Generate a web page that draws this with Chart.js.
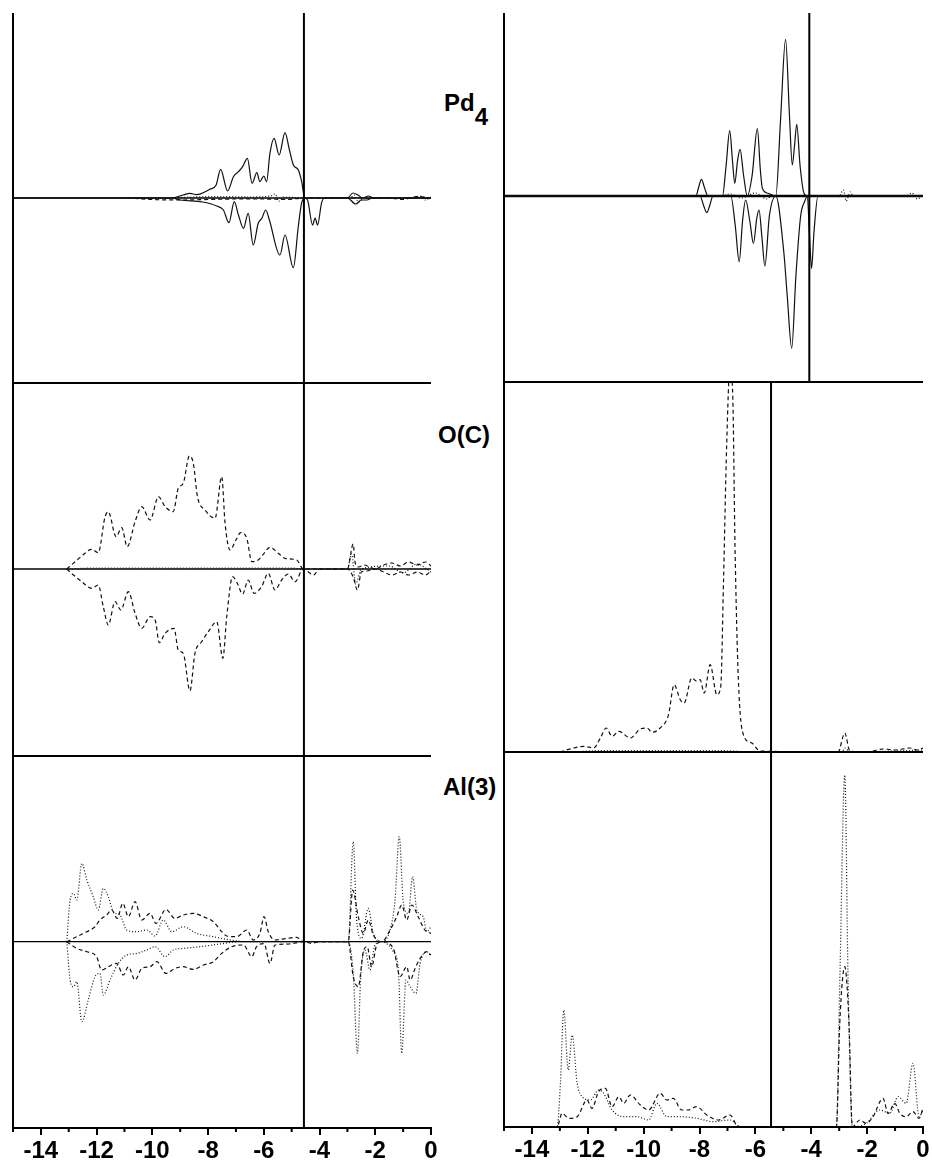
<!DOCTYPE html>
<html>
<head>
<meta charset="utf-8">
<script src="https://cdn.jsdelivr.net/npm/chart.js@4.4.0/dist/chart.umd.min.js"></script>
<style>
  body { margin: 0; background: #fff; width: 932px; height: 1165px; position: relative; overflow: hidden;
         font-family: "Liberation Sans", Arial, sans-serif; }
  .panel { position: absolute; }
  .label { position: absolute; font-weight: bold; font-size: 24px; line-height: 1; color: #000; white-space: nowrap; }
  .label .sub { position: relative; top: 14px; }
</style>
</head>
<body>
<div class="label" style="left:444px;top:91px">Pd<span class="sub">4</span></div>
<div class="label" style="left:438px;top:423px">O(C)</div>
<div class="label" style="left:443px;top:775px">Al(3)</div>

<script>
// Energy window (eV) and Fermi levels
const xMin = -15, xMax = 0;
const fermiLeft = -4.56, fermiRightTop = -4.07, fermiRight = -5.44;

// Pd4 - left column (spin up / spin down)
const pdLeftUp = [[-15,0],[-9.3,0],[-8.9,3],[-8.65,4.7],[-8.41,3.3],[-7.93,8.7],[-7.71,13],[-7.55,28.7],[-7.30,7],[-7.09,21.3],
  [-6.91,26.3],[-6.76,31.3],[-6.59,39.7],[-6.42,14.7],[-6.25,25.3],[-6.14,16.3],[-6.00,22],[-5.90,16.3],[-5.78,44.7],[-5.63,59.7],
  [-5.45,43],[-5.24,65.3],[-5.08,48],[-4.94,33],[-4.76,28],[-4.64,16.3],[-4.53,0],[-3.0,0],[-2.8,5],[-2.62,3],[-2.45,0],[-2.25,2],[-2.05,0],[0,0]];
const pdLeftDown = [[-15,0],[-9.3,0],[-9.0,-2],[-8.2,-4],[-7.69,-8],[-7.45,-12],[-7.25,-24.7],[-7.06,-3.7],[-6.91,-17],[-6.73,-30.3],
  [-6.56,-15.3],[-6.38,-47],[-6.20,-25.3],[-6.07,-20.3],[-5.93,-12],[-5.80,-22],[-5.42,-57],[-5.24,-37],[-4.94,-69.7],[-4.76,-28],
  [-4.64,-4.7],[-4.53,0],[-4.43,-2],[-4.25,-27],[-4.16,-20],[-4.07,-27],[-3.93,-5.3],[-3.83,0],[-3.0,0],[-2.7,-6],[-2.5,-2],[-2.3,-2],[-2.1,0],[0,0]];
const pdLeftDash = [[-10.9,0],[-10,-1.5],[-9,-2],[-8,-1.5],[-7,-1],[-6,-1],[-5.2,-1.5],[-4.55,0],[-1.5,0],[-1.0,-1.5],[-0.5,1.5],[0,0]];
const pdLeftDot = [[-9.5,0],[-8.5,1],[-7.5,1.5],[-6.5,1],[-5.75,2],[-5.6,4],[-5.45,-3],[-5.3,1],[-4.55,0],[-2.9,0],[-2.75,3],
  [-2.6,-4],[-2.4,0],[-0.6,0],[-0.4,2],[-0.2,-2],[0,1]];

// Pd4 - right column
const pdRightUp = [[-15,0],[-8.13,0],[-8.03,9],[-7.93,16.7],[-7.83,9],[-7.7,0],[-7.18,0],[-7.05,30],[-6.92,65.3],[-6.82,35],
  [-6.74,12.7],[-6.64,35],[-6.55,46.7],[-6.42,20],[-6.29,0],[-6.12,20],[-5.93,67.3],[-5.82,25],[-5.75,7.7],[-5.55,2.7],[-5.27,0],
  [-5.10,76],[-4.92,156.7],[-4.78,80],[-4.68,31],[-4.60,50],[-4.52,71.7],[-4.40,30],[-4.26,2.7],[-4.14,0],[0,0]];
const pdRightDown = [[-15,0],[-7.98,0],[-7.86,-9],[-7.74,-16.7],[-7.63,-9],[-7.52,0],[-6.88,0],[-6.72,-30],[-6.58,-65.7],[-6.46,-25],
  [-6.35,-4],[-6.20,-25],[-6.07,-47.3],[-5.95,-22],[-5.87,-14],[-5.77,-40],[-5.66,-70],[-5.50,-20],[-5.27,0],[-4.98,-57],[-4.86,-100],
  [-4.70,-152.3],[-4.55,-80],[-4.38,-20],[-4.24,-5.7],[-4.14,0],[-4.07,-35],[-3.99,-72.3],[-3.90,-35],[-3.76,0],[0,0]];
const pdRightDot = [[-7.2,0],[-6.9,2],[-6.5,-2],[-6.0,3],[-5.6,-3],[-5.4,0],[-3.0,0],[-2.85,6],[-2.75,-5],[-2.6,4],[-2.5,0],
  [-0.6,0],[-0.4,3],[-0.2,-3],[0,2]];

// O(C) - left column
const ocLeftUp = [[-13.07,0],[-12.77,7.3],[-12.53,13],[-12.18,19.7],[-11.94,16.3],[-11.70,51.7],[-11.58,57.3],[-11.30,32.3],[-11.10,41.3],
  [-10.90,22.3],[-10.62,47.3],[-10.38,62.3],[-10.08,49],[-9.78,72.3],[-9.54,62.3],[-9.25,57.3],[-9.07,80.7],[-8.89,85.7],[-8.67,113],
  [-8.53,105.7],[-8.38,72.3],[-8.11,59],[-7.75,50.7],[-7.51,92.3],[-7.39,45.7],[-7.21,19],[-7.00,29],[-6.83,36.3],[-6.61,30.7],[-6.43,7.3],
  [-6.20,9],[-5.99,15.7],[-5.78,21.7],[-5.48,15.7],[-5.24,10.7],[-4.82,9],[-4.58,0],[-3.0,0],[-2.79,25],[-2.73,7.3],[-2.6,2],[-2.4,4],
  [-2.2,2],[-2.0,0],[-1.7,4],[-1.4,6],[-1.1,3],[-0.8,7],[-0.5,4],[-0.2,7],[0,3]];
const ocLeftDown = [[-13.07,0],[-12.83,-6],[-12.53,-12.7],[-12.18,-19.3],[-11.94,-16],[-11.76,-37.7],[-11.58,-56],[-11.34,-32.7],[-11.13,-41],
  [-10.86,-22.7],[-10.62,-44.3],[-10.38,-59.3],[-10.08,-47.7],[-9.90,-51],[-9.75,-73.7],[-9.54,-64.3],[-9.22,-59.3],[-9.07,-81],[-8.89,-84.3],
  [-8.65,-121.7],[-8.47,-84.3],[-8.23,-72.7],[-7.99,-62.7],[-7.69,-52.7],[-7.47,-89.3],[-7.33,-47.7],[-7.12,-7.7],[-6.95,-14.3],[-6.76,-25],
  [-6.56,-11],[-6.35,-24.3],[-6.08,-17.7],[-5.84,-4.3],[-5.60,-21],[-5.36,-11],[-5.12,-5],[-4.88,-12.7],[-4.58,0],[-4.4,-3],[-4.22,-6],
  [-4.0,0],[-3.0,0],[-2.79,-8],[-2.64,-21],[-2.5,-3],[-2.3,-2],[-2.0,0],[-1.7,-3],[-1.4,-6],[-1.1,-3],[-0.8,-6],[-0.5,-3],[-0.2,-6],[0,-2]];
const ocLeftDot = [[-13.0,0],[-12,1],[-11,1],[-10,1],[-9,1],[-8,1],[-7,1],[-6,1],[-5,1],[-4.6,0],[-3.0,0],[-2.85,15],[-2.7,-15],
  [-2.5,0],[-1.5,3],[-1,-4],[-0.5,5],[0,-3]];

// O(C) - right column
const ocRight = [[-15,0],[-13.04,0],[-12.74,2.3],[-12.14,5.7],[-11.79,4],[-11.55,14],[-11.34,24],[-11.13,15.7],[-10.89,20.7],[-10.48,14],
  [-10.12,23],[-9.88,24],[-9.70,19.7],[-9.41,24],[-9.11,37.3],[-8.91,67.3],[-8.69,52.3],[-8.55,49],[-8.28,74],[-8.10,70.7],[-7.98,72.3],
  [-7.83,59],[-7.62,87.3],[-7.38,57.3],[-7.24,65.7],[-7.14,172.3],[-7.03,305.7],[-6.91,385],[-6.81,355.7],[-6.73,205.7],[-6.61,72.3],
  [-6.43,17.3],[-6.13,9],[-5.84,1],[-3.04,0],[-2.80,19],[-2.62,1],[-2.0,0],[-1.43,3],[-1.0,2],[-0.48,4],[-0.2,2],[0,4]];
const ocRightDot = [[-12.5,0],[-11.5,1.5],[-10.5,1.5],[-9.5,1.5],[-8.5,1.5],[-7.5,1.5],[-6.8,1],[-6.3,0],[-2.9,0],[-2.8,4],[-2.6,0],[-1,1],[0,2]];

// Al(3) - left column
const alLeftDotUp = [[-13.07,0],[-12.95,41.7],[-12.83,48.3],[-12.71,41.7],[-12.53,78.3],[-12.35,61.7],[-12.12,45],[-11.94,31.7],[-11.76,53.3],
  [-11.58,45],[-11.40,30],[-11.16,26.7],[-10.92,11.7],[-10.56,10],[-10.20,11.7],[-9.90,5.7],[-9.61,21.7],[-9.30,10],[-8.89,15],[-8.41,8.3],
  [-7.81,5],[-7.21,1.7],[-6.6,0],[-2.97,0],[-2.79,100],[-2.67,21.7],[-2.49,3.3],[-2.25,33.3],[-2.07,8.3],[-1.77,0],[-1.47,11.7],[-1.29,41.7],
  [-1.14,105],[-0.99,38.3],[-0.81,28.3],[-0.66,65],[-0.51,31.7],[-0.28,25],[-0.15,10],[0,15]];
const alLeftDotDown = [[-13.07,0],[-12.95,-38.3],[-12.83,-45],[-12.71,-40],[-12.53,-80],[-12.30,-58.3],[-12.06,-35],[-11.88,-31.7],[-11.76,-53.3],
  [-11.52,-38.3],[-11.22,-21.7],[-10.92,-13.3],[-10.56,-11.7],[-10.20,-8.3],[-9.90,-5],[-9.54,-15],[-9.25,-8.3],[-8.89,-6.7],[-8.29,-5],
  [-7.57,-2.3],[-6.9,0],[-2.97,0],[-2.79,-31.7],[-2.64,-111.7],[-2.52,-35],[-2.37,-8.3],[-2.19,-28.3],[-2.01,-3.3],[-1.77,0],[-1.35,-10],
  [-1.17,-28.3],[-1.05,-111.7],[-0.90,-38.3],[-0.75,-45],[-0.54,-51.7],[-0.39,-21.7],[-0.15,-10],[0,-15]];
const alLeftDashUp = [[-13.07,0],[-12.71,5],[-12.35,10],[-12.06,15],[-11.88,21.7],[-11.64,26.7],[-11.46,31.7],[-11.26,23.3],[-11.06,38.3],
  [-10.86,25],[-10.62,40],[-10.38,21.7],[-10.08,28.3],[-9.87,18.3],[-9.51,32.3],[-9.19,23.3],[-8.89,26.7],[-8.53,28.3],[-8.17,25],[-7.81,20],
  [-7.51,10],[-7.33,5.7],[-6.97,5],[-6.61,11.7],[-6.38,1.7],[-6.14,8.3],[-5.99,25],[-5.84,10],[-5.60,1.7],[-5.18,3.3],[-4.82,4.3],[-4.58,0],
  [-2.97,0],[-2.81,51.7],[-2.61,25],[-2.43,8.3],[-2.25,21.7],[-2.07,6.7],[-1.77,0],[-1.47,11.7],[-1.23,25],[-1.05,36.7],[-0.87,21.7],
  [-0.69,36.7],[-0.46,25],[-0.22,11.7],[0,8.3]];
const alLeftDashDown = [[-13.07,0],[-12.71,-6.7],[-12.35,-10],[-12.00,-15],[-11.82,-28.3],[-11.58,-25],[-11.28,-21.7],[-11.04,-33.3],[-10.86,-25],
  [-10.62,-38.3],[-10.38,-26.7],[-10.08,-25],[-9.84,-20],[-9.51,-31.7],[-9.19,-26.7],[-8.89,-25],[-8.53,-27.7],[-8.17,-23.3],[-7.81,-20],
  [-7.51,-11.7],[-7.15,-5],[-6.73,-3.3],[-6.43,-15],[-6.26,-5],[-5.99,-2],[-5.78,-21.7],[-5.60,-3.3],[-5.1,-2.3],[-4.58,0],[-4.28,-1.7],[-4.0,0],
  [-2.97,0],[-2.79,-35],[-2.61,-45],[-2.43,-10],[-2.29,-5],[-2.13,-25],[-1.95,-3.3],[-1.77,0],[-1.35,-6.7],[-1.11,-35],[-0.87,-25],[-0.75,-38.3],
  [-0.57,-26.7],[-0.39,-16.7],[-0.15,-10],[0,-13.3]];

// Al(3) - right column
const alRightDot = [[-15,0],[-13.10,0],[-12.98,43.7],[-12.86,117],[-12.70,57],[-12.56,92],[-12.38,43.7],[-12.20,30.3],[-11.91,27],[-11.61,37],
  [-11.43,33.7],[-11.13,17],[-10.71,10.3],[-10.24,10.3],[-9.82,7],[-9.53,23.7],[-9.17,10.3],[-8.70,10.3],[-8.10,8.7],[-7.51,5.3],[-6.91,7],
  [-6.55,0],[-3.10,0],[-2.98,143.7],[-2.80,352],[-2.68,143.7],[-2.53,0],[-2.03,3.7],[-1.55,17],[-1.19,13.7],[-0.89,30.3],[-0.60,23.7],
  [-0.36,63.7],[-0.14,10.3],[0,17]];
const alRightDash = [[-15,0],[-13.10,0],[-12.92,13.7],[-12.68,8.7],[-12.38,10.3],[-12.03,27],[-11.85,18.7],[-11.61,35.7],[-11.37,38.7],
  [-11.13,20.3],[-10.89,30.3],[-10.71,23.7],[-10.48,32],[-10.12,22],[-9.82,17],[-9.41,33.7],[-9.17,27],[-8.94,28.7],[-8.64,17],[-8.40,17],
  [-8.10,20.3],[-7.74,12],[-7.32,7],[-6.91,12],[-6.67,2],[-6.43,0],[-3.10,0],[-2.98,103.7],[-2.80,160.3],[-2.65,103.7],[-2.53,0],[-2.26,7],
  [-2.03,3.7],[-1.79,10.3],[-1.43,28.7],[-1.25,13.7],[-1.01,23.7],[-0.83,13.7],[-0.60,10.3],[-0.36,15.3],[-0.14,8.7],[0,18.7]];

const tickValues = [-14, -12, -10, -8, -6, -4, -2, 0];
const minorTicks = [-15, -13, -11, -9, -7, -5, -3, -1];

// Layout
const PAD = 20, AXIS_H = 40;
const DASH = { solid: [], dash: [4, 3], dot: [1, 2] };

// Frame, zero line, Fermi line and short minor ticks
const framePlugin = {
    id: 'frame',
    beforeDatasetsDraw(chart, args, opts) {
        if (!opts.zeroWidth) return;
        const { ctx, chartArea: a, scales: { y } } = chart;
        const y0 = y.getPixelForValue(0);
        ctx.save();
        ctx.strokeStyle = '#000';
        ctx.lineWidth = opts.zeroWidth;
        ctx.beginPath();
        ctx.moveTo(a.left, y0);
        ctx.lineTo(a.right, y0);
        ctx.stroke();
        ctx.restore();
    },
    afterDatasetsDraw(chart, args, opts) {
        const { ctx, chartArea: a, scales: { x } } = chart;
        ctx.save();
        ctx.strokeStyle = '#000';
        ctx.lineWidth = 2;
        ctx.beginPath();
        const xf = x.getPixelForValue(opts.fermi);
        ctx.moveTo(xf, a.top);
        ctx.lineTo(xf, a.bottom);
        ctx.moveTo(a.left, a.top);
        ctx.lineTo(a.left, a.bottom);
        ctx.moveTo(a.left - 1, a.bottom);
        ctx.lineTo(a.right, a.bottom);
        if (opts.topLine) {
            ctx.moveTo(a.left - 1, a.top);
            ctx.lineTo(a.right, a.top);
        }
        if (opts.minor) {
            minorTicks.forEach(v => {
                const px = x.getPixelForValue(v);
                ctx.moveTo(px, a.bottom);
                ctx.lineTo(px, a.bottom + 4);
            });
        }
        ctx.stroke();
        ctx.restore();
    }
};

const panels = [
    { left: 13, top: 13, w: 418, h: 370, yMin: -185, yMax: 185, fermi: fermiLeft, zeroWidth: 1.3, topLine: false,
      series: [[pdLeftDash, 'dash'], [pdLeftDot, 'dot'], [pdLeftUp, 'solid'], [pdLeftDown, 'solid']] },
    { left: 13, top: 383, w: 418, h: 373, yMin: -187, yMax: 186, fermi: fermiLeft, zeroWidth: 1.3, topLine: true,
      series: [[ocLeftDot, 'dot'], [ocLeftUp, 'dash'], [ocLeftDown, 'dash']] },
    { left: 13, top: 756, w: 418, h: 372, yMin: -186.3, yMax: 185.7, fermi: fermiLeft, zeroWidth: 1.3, topLine: true, axis: true,
      series: [[alLeftDotUp, 'dot'], [alLeftDotDown, 'dot'], [alLeftDashUp, 'dash'], [alLeftDashDown, 'dash']] },
    { left: 504, top: 13, w: 419, h: 369, yMin: -186, yMax: 183, fermi: fermiRightTop, zeroWidth: 2.5, topLine: false,
      series: [[pdRightDot, 'dot'], [pdRightUp, 'solid'], [pdRightDown, 'solid']] },
    { left: 504, top: 382, w: 419, h: 370, yMin: 0, yMax: 370, fermi: fermiRight, zeroWidth: 0, topLine: true,
      series: [[ocRightDot, 'dot'], [ocRight, 'dash']] },
    { left: 504, top: 752, w: 419, h: 375, yMin: 0, yMax: 375, fermi: fermiRight, zeroWidth: 0, topLine: true, axis: true,
      series: [[alRightDot, 'dot'], [alRightDash, 'dash']] }
];

panels.forEach(p => {
    const w = p.w + PAD * 2;
    const h = p.h + PAD + (p.axis ? AXIS_H : PAD);
    const box = document.createElement('div');
    box.className = 'panel';
    box.style.left = (p.left - PAD) + 'px';
    box.style.top = (p.top - PAD) + 'px';
    box.style.width = w + 'px';
    box.style.height = h + 'px';
    const canvas = document.createElement('canvas');
    box.appendChild(canvas);
    document.body.appendChild(box);

    const xScale = {
        type: 'linear',
        min: xMin,
        max: xMax,
        display: !!p.axis,
        border: { display: true, color: '#000', width: 2 },
        grid: {
            drawOnChartArea: false,
            drawTicks: true,
            tickLength: 7,
            lineWidth: 2,
            tickColor: c => tickValues.includes(c.tick && c.tick.value) ? '#000' : 'rgba(0,0,0,0)'
        },
        ticks: {
            stepSize: 1,
            autoSkip: false,
            maxRotation: 0,
            padding: 2,
            color: '#000',
            font: { family: '"Liberation Sans", Arial, sans-serif', size: 24, weight: 'bold' },
            callback: v => tickValues.includes(v) ? String(v) : ''
        }
    };
    if (p.axis) xScale.afterFit = s => { s.height = AXIS_H; };

    new Chart(canvas, {
        type: 'line',
        data: {
            datasets: p.series.map(([pts, style]) => ({
                data: pts.map(([e, d]) => ({ x: e, y: d })),
                borderColor: '#111',
                borderWidth: 1.2,
                borderDash: DASH[style],
                pointRadius: 0,
                cubicInterpolationMode: 'monotone',
                fill: false
            }))
        },
        options: {
            responsive: true,
            maintainAspectRatio: false,
            animation: false,
            layout: { padding: { left: PAD, right: PAD, top: PAD, bottom: p.axis ? 0 : PAD } },
            plugins: {
                legend: { display: false },
                tooltip: { enabled: false },
                frame: { fermi: p.fermi, zeroWidth: p.zeroWidth, topLine: p.topLine, minor: !!p.axis }
            },
            scales: {
                x: xScale,
                y: { min: p.yMin, max: p.yMax, display: false }
            }
        },
        plugins: [framePlugin]
    });
});
</script>
</body>
</html>
